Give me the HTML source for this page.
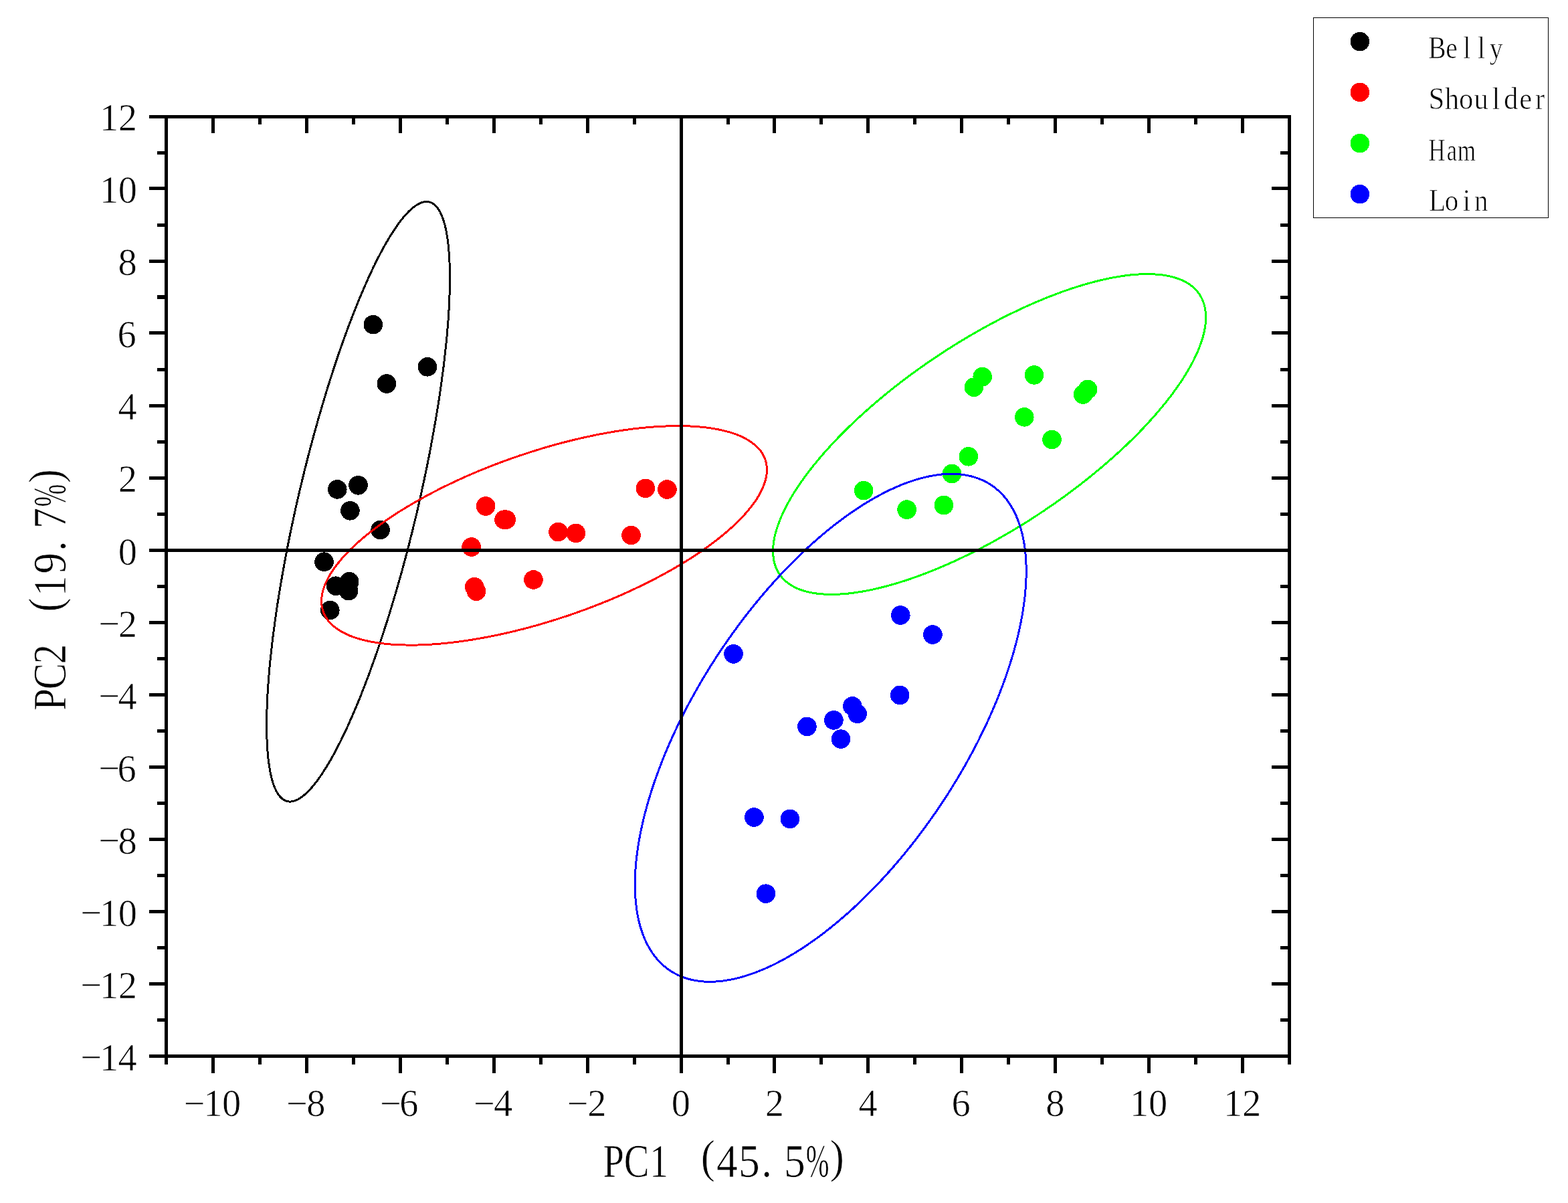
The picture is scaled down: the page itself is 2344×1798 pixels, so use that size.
<!DOCTYPE html>
<html lang="en">
<head>
<meta charset="utf-8">
<title>PCA score plot</title>
<style>
html,body{margin:0;padding:0;background:#ffffff;}
body{width:2344px;height:1798px;overflow:hidden;}
svg{display:block;}
text{white-space:pre;}
</style>
</head>
<body>
<svg width="2344" height="1798" viewBox="0 0 2344 1798">
<rect x="0" y="0" width="2344" height="1798" fill="#ffffff"/>
<g shape-rendering="crispEdges">
<g fill="#000000"><circle cx="557.8" cy="485.2" r="14.3"/><circle cx="638.9" cy="548.3" r="14.3"/><circle cx="577.9" cy="573.5" r="14.3"/><circle cx="504.3" cy="731.4" r="14.3"/><circle cx="535.5" cy="725.3" r="14.3"/><circle cx="523.4" cy="763.3" r="14.3"/><circle cx="568.6" cy="792" r="14.3"/><circle cx="484.5" cy="839.7" r="14.3"/><circle cx="502.1" cy="875.7" r="14.3"/><circle cx="522.2" cy="869.3" r="14.3"/><circle cx="521.1" cy="883" r="14.3"/><circle cx="493.3" cy="912.1" r="14.3"/></g>
<g fill="#ff0000"><circle cx="726.2" cy="756.5" r="14.3"/><circle cx="753.5" cy="776.6" r="14.3"/><circle cx="756.6" cy="776.6" r="14.3"/><circle cx="704.6" cy="817.5" r="14.3"/><circle cx="709.2" cy="877.2" r="14.3"/><circle cx="712" cy="883.7" r="14.3"/><circle cx="797.5" cy="866.5" r="14.3"/><circle cx="834.4" cy="795.1" r="14.3"/><circle cx="860.9" cy="796.9" r="14.3"/><circle cx="943.5" cy="800" r="14.3"/><circle cx="964.9" cy="729.8" r="14.3"/><circle cx="997.4" cy="731.5" r="14.3"/></g>
<g fill="#00ff00"><circle cx="1291.1" cy="733.1" r="14.3"/><circle cx="1355.6" cy="761.6" r="14.3"/><circle cx="1410.9" cy="755" r="14.3"/><circle cx="1423" cy="708" r="14.3"/><circle cx="1447.8" cy="682.3" r="14.3"/><circle cx="1455.9" cy="578.7" r="14.3"/><circle cx="1468.7" cy="563.1" r="14.3"/><circle cx="1546" cy="560.4" r="14.3"/><circle cx="1531.3" cy="623.4" r="14.3"/><circle cx="1572.5" cy="657" r="14.3"/><circle cx="1619.1" cy="589.6" r="14.3"/><circle cx="1626" cy="582" r="14.3"/></g>
<g fill="#0000ff"><circle cx="1096.5" cy="977.4" r="14.3"/><circle cx="1346.3" cy="919.5" r="14.3"/><circle cx="1394.4" cy="948.5" r="14.3"/><circle cx="1345.2" cy="1039" r="14.3"/><circle cx="1274.3" cy="1055.4" r="14.3"/><circle cx="1281.7" cy="1066.8" r="14.3"/><circle cx="1246.4" cy="1076.4" r="14.3"/><circle cx="1206.4" cy="1085.9" r="14.3"/><circle cx="1257" cy="1104.6" r="14.3"/><circle cx="1127.4" cy="1221.5" r="14.3"/><circle cx="1180.9" cy="1223.9" r="14.3"/><circle cx="1144.9" cy="1335.7" r="14.3"/></g>
<g fill="none" stroke-width="3" stroke-linejoin="round">
<polygon stroke="#000000" points="642.4,302.1 643.9,302.6 645.3,303.2 646.7,304.0 648.1,304.9 649.5,305.9 650.8,307.1 652.0,308.4 653.3,309.8 654.5,311.4 655.7,313.1 656.8,315.0 657.9,316.9 658.9,319.0 660.0,321.3 660.9,323.6 661.9,326.1 662.8,328.8 663.6,331.5 664.5,334.4 665.3,337.4 666.0,340.6 666.7,343.8 667.4,347.2 668.0,350.7 668.6,354.3 669.1,358.1 669.6,361.9 670.1,365.9 670.5,370.0 670.9,374.3 671.3,378.6 671.6,383.0 671.8,387.6 672.0,392.3 672.2,397.0 672.3,401.9 672.4,406.9 672.5,412.0 672.5,417.2 672.5,422.5 672.4,427.9 672.3,433.4 672.1,439.0 671.9,444.7 671.7,450.5 671.4,456.3 671.1,462.3 670.7,468.3 670.3,474.5 669.9,480.7 669.4,487.0 668.8,493.4 668.3,499.8 667.7,506.4 667.0,513.0 666.3,519.7 665.6,526.4 664.8,533.2 664.0,540.1 663.2,547.1 662.3,554.1 661.3,561.1 660.4,568.3 659.4,575.4 658.3,582.7 657.3,590.0 656.2,597.3 655.0,604.7 653.8,612.1 652.6,619.6 651.3,627.1 650.0,634.6 648.7,642.2 647.3,649.8 645.9,657.5 644.5,665.1 643.1,672.8 641.6,680.6 640.0,688.3 638.5,696.1 636.9,703.8 635.2,711.6 633.6,719.4 631.9,727.2 630.2,735.1 628.5,742.9 626.7,750.7 624.9,758.5 623.1,766.4 621.2,774.2 619.3,782.0 617.4,789.8 615.5,797.6 613.5,805.3 611.6,813.1 609.6,820.8 607.6,828.5 605.5,836.2 603.4,843.9 601.4,851.5 599.2,859.1 597.1,866.7 595.0,874.3 592.8,881.7 590.6,889.2 588.4,896.6 586.2,904.0 584.0,911.3 581.8,918.6 579.5,925.8 577.2,933.0 574.9,940.1 572.7,947.2 570.3,954.1 568.0,961.1 565.7,968.0 563.4,974.8 561.0,981.5 558.7,988.2 556.3,994.7 553.9,1001.3 551.6,1007.7 549.2,1014.1 546.8,1020.3 544.4,1026.5 542.0,1032.6 539.7,1038.7 537.3,1044.6 534.9,1050.5 532.5,1056.2 530.1,1061.9 527.7,1067.5 525.3,1072.9 522.9,1078.3 520.6,1083.6 518.2,1088.8 515.8,1093.8 513.5,1098.8 511.1,1103.6 508.8,1108.4 506.4,1113.0 504.1,1117.6 501.8,1122.0 499.5,1126.3 497.2,1130.5 494.9,1134.6 492.6,1138.5 490.3,1142.3 488.1,1146.1 485.8,1149.7 483.6,1153.1 481.4,1156.5 479.2,1159.7 477.1,1162.8 474.9,1165.8 472.8,1168.7 470.7,1171.4 468.6,1174.0 466.5,1176.5 464.4,1178.8 462.4,1181.0 460.4,1183.1 458.4,1185.0 456.4,1186.8 454.5,1188.5 452.6,1190.0 450.7,1191.5 448.8,1192.7 447.0,1193.9 445.2,1194.9 443.4,1195.7 441.7,1196.5 439.9,1197.1 438.2,1197.5 436.6,1197.9 434.9,1198.0 433.3,1198.1 431.8,1198.0 430.2,1197.8 428.7,1197.4 427.2,1196.9 425.8,1196.3 424.4,1195.5 423.0,1194.6 421.6,1193.6 420.3,1192.4 419.1,1191.1 417.8,1189.7 416.6,1188.1 415.4,1186.4 414.3,1184.5 413.2,1182.6 412.2,1180.5 411.1,1178.2 410.2,1175.9 409.2,1173.4 408.3,1170.7 407.5,1168.0 406.6,1165.1 405.8,1162.1 405.1,1158.9 404.4,1155.7 403.7,1152.3 403.1,1148.8 402.5,1145.2 402.0,1141.4 401.5,1137.6 401.0,1133.6 400.6,1129.5 400.2,1125.2 399.8,1120.9 399.5,1116.5 399.3,1111.9 399.1,1107.2 398.9,1102.5 398.8,1097.6 398.7,1092.6 398.6,1087.5 398.6,1082.3 398.6,1077.0 398.7,1071.6 398.8,1066.1 399.0,1060.5 399.2,1054.8 399.4,1049.0 399.7,1043.2 400.0,1037.2 400.4,1031.2 400.8,1025.0 401.2,1018.8 401.7,1012.5 402.3,1006.1 402.8,999.7 403.4,993.1 404.1,986.5 404.8,979.8 405.5,973.1 406.3,966.3 407.1,959.4 407.9,952.4 408.8,945.4 409.8,938.4 410.7,931.2 411.7,924.1 412.8,916.8 413.8,909.5 414.9,902.2 416.1,894.8 417.3,887.4 418.5,879.9 419.8,872.4 421.1,864.9 422.4,857.3 423.8,849.7 425.2,842.0 426.6,834.4 428.0,826.7 429.5,818.9 431.1,811.2 432.6,803.4 434.2,795.7 435.9,787.9 437.5,780.1 439.2,772.3 440.9,764.4 442.6,756.6 444.4,748.8 446.2,741.0 448.0,733.1 449.9,725.3 451.8,717.5 453.7,709.7 455.6,701.9 457.6,694.2 459.5,686.4 461.5,678.7 463.5,671.0 465.6,663.3 467.7,655.6 469.7,648.0 471.9,640.4 474.0,632.8 476.1,625.2 478.3,617.8 480.5,610.3 482.7,602.9 484.9,595.5 487.1,588.2 489.3,580.9 491.6,573.7 493.9,566.5 496.2,559.4 498.4,552.3 500.8,545.4 503.1,538.4 505.4,531.5 507.7,524.7 510.1,518.0 512.4,511.3 514.8,504.8 517.2,498.2 519.5,491.8 521.9,485.4 524.3,479.2 526.7,473.0 529.1,466.9 531.4,460.8 533.8,454.9 536.2,449.0 538.6,443.3 541.0,437.6 543.4,432.0 545.8,426.6 548.2,421.2 550.5,415.9 552.9,410.7 555.3,405.7 557.6,400.7 560.0,395.9 562.3,391.1 564.7,386.5 567.0,381.9 569.3,377.5 571.6,373.2 573.9,369.0 576.2,364.9 578.5,361.0 580.8,357.2 583.0,353.4 585.3,349.8 587.5,346.4 589.7,343.0 591.9,339.8 594.0,336.7 596.2,333.7 598.3,330.8 600.4,328.1 602.5,325.5 604.6,323.0 606.7,320.7 608.7,318.5 610.7,316.4 612.7,314.5 614.7,312.7 616.6,311.0 618.5,309.5 620.4,308.0 622.3,306.8 624.1,305.6 625.9,304.6 627.7,303.8 629.4,303.0 631.2,302.4 632.9,302.0 634.5,301.6 636.2,301.5 637.8,301.4 639.3,301.5 640.9,301.7"/>
<polygon stroke="#ff0000" points="1144.3,687.9 1144.9,690.0 1145.4,692.1 1145.8,694.3 1146.1,696.5 1146.3,698.7 1146.4,701.0 1146.4,703.3 1146.3,705.6 1146.1,707.9 1145.8,710.3 1145.4,712.7 1144.9,715.1 1144.3,717.6 1143.5,720.1 1142.7,722.6 1141.8,725.1 1140.8,727.6 1139.7,730.2 1138.5,732.8 1137.2,735.4 1135.8,738.0 1134.3,740.7 1132.7,743.4 1131.0,746.1 1129.2,748.8 1127.3,751.5 1125.3,754.2 1123.2,757.0 1121.0,759.7 1118.8,762.5 1116.4,765.3 1114.0,768.1 1111.4,770.9 1108.8,773.7 1106.0,776.5 1103.2,779.4 1100.3,782.2 1097.3,785.0 1094.3,787.9 1091.1,790.7 1087.8,793.6 1084.5,796.4 1081.1,799.3 1077.6,802.2 1074.0,805.0 1070.4,807.9 1066.6,810.7 1062.8,813.6 1058.9,816.4 1055.0,819.3 1050.9,822.1 1046.8,824.9 1042.6,827.8 1038.4,830.6 1034.1,833.4 1029.7,836.2 1025.2,839.0 1020.7,841.7 1016.1,844.5 1011.5,847.2 1006.8,850.0 1002.0,852.7 997.2,855.4 992.3,858.1 987.4,860.7 982.4,863.4 977.4,866.0 972.3,868.6 967.2,871.2 962.0,873.8 956.8,876.3 951.5,878.8 946.2,881.3 940.9,883.8 935.5,886.2 930.1,888.7 924.6,891.1 919.1,893.4 913.6,895.8 908.0,898.1 902.4,900.3 896.8,902.6 891.2,904.8 885.5,907.0 879.8,909.1 874.1,911.3 868.4,913.3 862.7,915.4 856.9,917.4 851.2,919.4 845.4,921.3 839.6,923.2 833.8,925.1 828.0,926.9 822.2,928.7 816.4,930.5 810.6,932.2 804.8,933.9 799.0,935.5 793.2,937.1 787.4,938.7 781.6,940.2 775.8,941.6 770.0,943.1 764.3,944.4 758.5,945.8 752.8,947.1 747.1,948.3 741.4,949.5 735.8,950.7 730.1,951.8 724.5,952.8 718.9,953.9 713.4,954.8 707.8,955.8 702.4,956.6 696.9,957.5 691.5,958.2 686.1,959.0 680.7,959.7 675.4,960.3 670.2,960.9 664.9,961.4 659.8,961.9 654.6,962.4 649.5,962.7 644.5,963.1 639.5,963.4 634.6,963.6 629.7,963.8 624.9,964.0 620.2,964.1 615.5,964.1 610.8,964.1 606.2,964.0 601.7,963.9 597.3,963.8 592.9,963.6 588.6,963.3 584.3,963.0 580.1,962.6 576.0,962.2 572.0,961.8 568.0,961.3 564.2,960.7 560.3,960.1 556.6,959.5 553.0,958.8 549.4,958.0 545.9,957.2 542.5,956.4 539.1,955.5 535.9,954.6 532.7,953.6 529.6,952.6 526.7,951.5 523.7,950.4 520.9,949.2 518.2,948.0 515.6,946.7 513.0,945.4 510.6,944.1 508.2,942.7 505.9,941.2 503.8,939.8 501.7,938.2 499.7,936.7 497.8,935.1 496.0,933.4 494.3,931.8 492.7,930.0 491.2,928.3 489.8,926.5 488.5,924.6 487.3,922.7 486.2,920.8 485.2,918.9 484.3,916.9 483.4,914.8 482.7,912.8 482.1,910.7 481.6,908.6 481.2,906.4 480.9,904.2 480.7,902.0 480.6,899.7 480.6,897.4 480.7,895.1 480.9,892.8 481.2,890.4 481.6,888.0 482.1,885.6 482.7,883.1 483.5,880.6 484.3,878.1 485.2,875.6 486.2,873.1 487.3,870.5 488.5,867.9 489.8,865.3 491.2,862.7 492.7,860.0 494.3,857.3 496.0,854.6 497.8,851.9 499.7,849.2 501.7,846.5 503.8,843.7 506.0,841.0 508.2,838.2 510.6,835.4 513.0,832.6 515.6,829.8 518.2,827.0 521.0,824.2 523.8,821.3 526.7,818.5 529.7,815.7 532.7,812.8 535.9,810.0 539.2,807.1 542.5,804.3 545.9,801.4 549.4,798.5 553.0,795.7 556.6,792.8 560.4,790.0 564.2,787.1 568.1,784.3 572.0,781.4 576.1,778.6 580.2,775.8 584.4,772.9 588.6,770.1 592.9,767.3 597.3,764.5 601.8,761.7 606.3,759.0 610.9,756.2 615.5,753.5 620.2,750.7 625.0,748.0 629.8,745.3 634.7,742.6 639.6,740.0 644.6,737.3 649.6,734.7 654.7,732.1 659.8,729.5 665.0,726.9 670.2,724.4 675.5,721.9 680.8,719.4 686.1,716.9 691.5,714.5 696.9,712.0 702.4,709.6 707.9,707.3 713.4,704.9 719.0,702.6 724.6,700.4 730.2,698.1 735.8,695.9 741.5,693.7 747.2,691.6 752.9,689.4 758.6,687.4 764.3,685.3 770.1,683.3 775.8,681.3 781.6,679.4 787.4,677.5 793.2,675.6 799.0,673.8 804.8,672.0 810.6,670.2 816.4,668.5 822.2,666.8 828.0,665.2 833.8,663.6 839.6,662.0 845.4,660.5 851.2,659.1 857.0,657.6 862.7,656.3 868.5,654.9 874.2,653.6 879.9,652.4 885.6,651.2 891.2,650.0 896.9,648.9 902.5,647.9 908.1,646.8 913.6,645.9 919.2,644.9 924.6,644.1 930.1,643.2 935.5,642.5 940.9,641.7 946.3,641.0 951.6,640.4 956.8,639.8 962.1,639.3 967.2,638.8 972.4,638.3 977.5,638.0 982.5,637.6 987.5,637.3 992.4,637.1 997.3,636.9 1002.1,636.7 1006.8,636.6 1011.5,636.6 1016.2,636.6 1020.8,636.7 1025.3,636.8 1029.7,636.9 1034.1,637.1 1038.4,637.4 1042.7,637.7 1046.9,638.1 1051.0,638.5 1055.0,638.9 1059.0,639.4 1062.8,640.0 1066.7,640.6 1070.4,641.2 1074.0,641.9 1077.6,642.7 1081.1,643.5 1084.5,644.3 1087.9,645.2 1091.1,646.1 1094.3,647.1 1097.4,648.1 1100.3,649.2 1103.3,650.3 1106.1,651.5 1108.8,652.7 1111.4,654.0 1114.0,655.3 1116.4,656.6 1118.8,658.0 1121.1,659.5 1123.2,660.9 1125.3,662.5 1127.3,664.0 1129.2,665.6 1131.0,667.3 1132.7,668.9 1134.3,670.7 1135.8,672.4 1137.2,674.2 1138.5,676.1 1139.7,678.0 1140.8,679.9 1141.8,681.8 1142.7,683.8 1143.6,685.9"/>
<polygon stroke="#00ff00" points="1793.8,441.1 1795.0,443.2 1796.2,445.3 1797.3,447.6 1798.3,449.9 1799.1,452.2 1799.9,454.6 1800.6,457.1 1801.2,459.6 1801.6,462.2 1802.0,464.8 1802.3,467.5 1802.5,470.3 1802.6,473.1 1802.6,475.9 1802.5,478.9 1802.3,481.8 1802.0,484.8 1801.6,487.9 1801.1,491.0 1800.5,494.2 1799.8,497.4 1799.0,500.7 1798.1,504.0 1797.1,507.3 1796.0,510.7 1794.8,514.1 1793.5,517.6 1792.2,521.1 1790.7,524.7 1789.1,528.2 1787.5,531.9 1785.7,535.5 1783.9,539.2 1781.9,543.0 1779.9,546.7 1777.8,550.5 1775.6,554.3 1773.2,558.2 1770.9,562.1 1768.4,566.0 1765.8,569.9 1763.1,573.9 1760.4,577.8 1757.6,581.8 1754.6,585.9 1751.6,589.9 1748.6,594.0 1745.4,598.0 1742.2,602.1 1738.8,606.2 1735.4,610.3 1731.9,614.5 1728.4,618.6 1724.7,622.8 1721.0,626.9 1717.2,631.1 1713.4,635.3 1709.5,639.4 1705.5,643.6 1701.4,647.8 1697.3,652.0 1693.1,656.1 1688.8,660.3 1684.5,664.5 1680.1,668.7 1675.6,672.8 1671.1,677.0 1666.5,681.1 1661.9,685.2 1657.2,689.4 1652.5,693.5 1647.7,697.6 1642.8,701.7 1637.9,705.7 1633.0,709.8 1628.0,713.8 1623.0,717.8 1617.9,721.8 1612.8,725.8 1607.6,729.7 1602.4,733.7 1597.2,737.6 1591.9,741.4 1586.6,745.3 1581.2,749.1 1575.9,752.9 1570.5,756.6 1565.0,760.3 1559.6,764.0 1554.1,767.6 1548.6,771.3 1543.1,774.8 1537.5,778.4 1532.0,781.9 1526.4,785.3 1520.8,788.7 1515.2,792.1 1509.6,795.4 1503.9,798.7 1498.3,801.9 1492.7,805.1 1487.0,808.3 1481.4,811.4 1475.7,814.4 1470.1,817.4 1464.5,820.4 1458.8,823.3 1453.2,826.1 1447.6,828.9 1441.9,831.6 1436.3,834.3 1430.8,836.9 1425.2,839.5 1419.6,842.0 1414.1,844.4 1408.6,846.8 1403.1,849.1 1397.6,851.4 1392.1,853.6 1386.7,855.7 1381.3,857.8 1375.9,859.8 1370.6,861.8 1365.3,863.6 1360.0,865.5 1354.8,867.2 1349.6,868.9 1344.5,870.5 1339.3,872.1 1334.3,873.5 1329.2,875.0 1324.3,876.3 1319.3,877.6 1314.4,878.8 1309.6,879.9 1304.8,881.0 1300.1,882.0 1295.4,882.9 1290.8,883.8 1286.2,884.5 1281.7,885.3 1277.3,885.9 1272.9,886.5 1268.6,887.0 1264.3,887.4 1260.2,887.7 1256.0,888.0 1252.0,888.2 1248.0,888.3 1244.1,888.4 1240.2,888.4 1236.5,888.3 1232.8,888.1 1229.1,887.9 1225.6,887.6 1222.1,887.2 1218.7,886.8 1215.4,886.2 1212.2,885.6 1209.0,885.0 1206.0,884.2 1203.0,883.4 1200.1,882.5 1197.3,881.6 1194.5,880.6 1191.9,879.5 1189.3,878.3 1186.9,877.1 1184.5,875.8 1182.2,874.4 1180.0,872.9 1177.9,871.4 1175.9,869.8 1174.0,868.2 1172.1,866.5 1170.4,864.7 1168.8,862.9 1167.2,860.9 1165.8,859.0 1164.4,856.9 1163.2,854.8 1162.0,852.7 1160.9,850.4 1159.9,848.1 1159.1,845.8 1158.3,843.4 1157.6,840.9 1157.0,838.4 1156.6,835.8 1156.2,833.2 1155.9,830.5 1155.7,827.7 1155.6,824.9 1155.6,822.1 1155.7,819.1 1155.9,816.2 1156.2,813.2 1156.6,810.1 1157.1,807.0 1157.7,803.8 1158.4,800.6 1159.2,797.3 1160.1,794.0 1161.1,790.7 1162.2,787.3 1163.4,783.9 1164.7,780.4 1166.0,776.9 1167.5,773.3 1169.1,769.8 1170.7,766.1 1172.5,762.5 1174.3,758.8 1176.3,755.0 1178.3,751.3 1180.4,747.5 1182.6,743.7 1185.0,739.8 1187.3,735.9 1189.8,732.0 1192.4,728.1 1195.1,724.1 1197.8,720.2 1200.6,716.2 1203.6,712.1 1206.6,708.1 1209.6,704.0 1212.8,700.0 1216.0,695.9 1219.4,691.8 1222.8,687.7 1226.3,683.5 1229.8,679.4 1233.5,675.2 1237.2,671.1 1241.0,666.9 1244.8,662.7 1248.7,658.6 1252.7,654.4 1256.8,650.2 1260.9,646.0 1265.1,641.9 1269.4,637.7 1273.7,633.5 1278.1,629.3 1282.6,625.2 1287.1,621.0 1291.7,616.9 1296.3,612.8 1301.0,608.6 1305.7,604.5 1310.5,600.4 1315.4,596.3 1320.3,592.3 1325.2,588.2 1330.2,584.2 1335.2,580.2 1340.3,576.2 1345.4,572.2 1350.6,568.3 1355.8,564.3 1361.0,560.4 1366.3,556.6 1371.6,552.7 1377.0,548.9 1382.3,545.1 1387.7,541.4 1393.2,537.7 1398.6,534.0 1404.1,530.4 1409.6,526.7 1415.1,523.2 1420.7,519.6 1426.2,516.1 1431.8,512.7 1437.4,509.3 1443.0,505.9 1448.6,502.6 1454.3,499.3 1459.9,496.1 1465.5,492.9 1471.2,489.7 1476.8,486.6 1482.5,483.6 1488.1,480.6 1493.7,477.6 1499.4,474.7 1505.0,471.9 1510.6,469.1 1516.3,466.4 1521.9,463.7 1527.4,461.1 1533.0,458.5 1538.6,456.0 1544.1,453.6 1549.6,451.2 1555.1,448.9 1560.6,446.6 1566.1,444.4 1571.5,442.3 1576.9,440.2 1582.3,438.2 1587.6,436.2 1592.9,434.4 1598.2,432.5 1603.4,430.8 1608.6,429.1 1613.7,427.5 1618.9,425.9 1623.9,424.5 1629.0,423.0 1633.9,421.7 1638.9,420.4 1643.8,419.2 1648.6,418.1 1653.4,417.0 1658.1,416.0 1662.8,415.1 1667.4,414.2 1672.0,413.5 1676.5,412.7 1680.9,412.1 1685.3,411.5 1689.6,411.0 1693.9,410.6 1698.0,410.3 1702.2,410.0 1706.2,409.8 1710.2,409.7 1714.1,409.6 1718.0,409.6 1721.7,409.7 1725.4,409.9 1729.1,410.1 1732.6,410.4 1736.1,410.8 1739.5,411.2 1742.8,411.8 1746.0,412.4 1749.2,413.0 1752.2,413.8 1755.2,414.6 1758.1,415.5 1760.9,416.4 1763.7,417.4 1766.3,418.5 1768.9,419.7 1771.3,420.9 1773.7,422.2 1776.0,423.6 1778.2,425.1 1780.3,426.6 1782.3,428.2 1784.2,429.8 1786.1,431.5 1787.8,433.3 1789.4,435.1 1791.0,437.1 1792.4,439.0"/>
<polygon stroke="#0000ff" points="1482.9,725.8 1485.8,727.8 1488.5,730.0 1491.2,732.2 1493.9,734.6 1496.4,737.1 1498.9,739.7 1501.3,742.3 1503.6,745.1 1505.8,748.0 1508.0,751.0 1510.0,754.1 1512.0,757.4 1513.9,760.7 1515.8,764.1 1517.5,767.6 1519.2,771.2 1520.7,774.9 1522.2,778.7 1523.6,782.6 1524.9,786.5 1526.2,790.6 1527.3,794.8 1528.4,799.0 1529.3,803.4 1530.2,807.8 1531.0,812.3 1531.7,816.9 1532.3,821.6 1532.9,826.3 1533.3,831.2 1533.7,836.1 1533.9,841.1 1534.1,846.2 1534.2,851.3 1534.2,856.5 1534.1,861.8 1533.9,867.2 1533.6,872.6 1533.3,878.1 1532.8,883.6 1532.3,889.3 1531.7,894.9 1530.9,900.7 1530.1,906.5 1529.3,912.3 1528.3,918.2 1527.2,924.1 1526.1,930.1 1524.8,936.2 1523.5,942.3 1522.1,948.4 1520.6,954.6 1519.0,960.8 1517.3,967.1 1515.6,973.4 1513.8,979.7 1511.8,986.1 1509.8,992.5 1507.8,998.9 1505.6,1005.4 1503.4,1011.8 1501.0,1018.3 1498.6,1024.9 1496.1,1031.4 1493.6,1038.0 1491.0,1044.5 1488.3,1051.1 1485.5,1057.7 1482.6,1064.3 1479.7,1070.9 1476.7,1077.6 1473.6,1084.2 1470.4,1090.8 1467.2,1097.4 1463.9,1104.1 1460.6,1110.7 1457.2,1117.3 1453.7,1123.9 1450.1,1130.5 1446.5,1137.0 1442.9,1143.6 1439.1,1150.1 1435.3,1156.7 1431.5,1163.2 1427.5,1169.6 1423.6,1176.1 1419.6,1182.5 1415.5,1188.9 1411.3,1195.3 1407.2,1201.6 1402.9,1207.9 1398.6,1214.2 1394.3,1220.4 1389.9,1226.6 1385.5,1232.7 1381.0,1238.8 1376.5,1244.9 1372.0,1250.9 1367.4,1256.9 1362.8,1262.8 1358.1,1268.6 1353.4,1274.4 1348.7,1280.1 1343.9,1285.8 1339.1,1291.4 1334.3,1297.0 1329.4,1302.5 1324.5,1307.9 1319.6,1313.3 1314.7,1318.6 1309.7,1323.8 1304.8,1329.0 1299.8,1334.0 1294.7,1339.0 1289.7,1344.0 1284.7,1348.8 1279.6,1353.6 1274.6,1358.3 1269.5,1362.9 1264.4,1367.4 1259.3,1371.8 1254.2,1376.2 1249.1,1380.4 1244.0,1384.6 1238.9,1388.7 1233.8,1392.7 1228.7,1396.6 1223.6,1400.4 1218.5,1404.1 1213.4,1407.7 1208.3,1411.2 1203.3,1414.6 1198.2,1418.0 1193.2,1421.2 1188.1,1424.3 1183.1,1427.3 1178.1,1430.2 1173.2,1433.0 1168.2,1435.7 1163.3,1438.3 1158.4,1440.8 1153.5,1443.2 1148.6,1445.4 1143.8,1447.6 1139.0,1449.6 1134.3,1451.6 1129.5,1453.4 1124.8,1455.1 1120.2,1456.7 1115.5,1458.2 1111.0,1459.6 1106.4,1460.9 1101.9,1462.0 1097.4,1463.1 1093.0,1464.0 1088.6,1464.8 1084.3,1465.5 1080.0,1466.1 1075.8,1466.6 1071.6,1466.9 1067.5,1467.2 1063.4,1467.3 1059.4,1467.3 1055.4,1467.2 1051.5,1467.0 1047.7,1466.6 1043.9,1466.2 1040.2,1465.6 1036.5,1464.9 1032.9,1464.1 1029.3,1463.2 1025.9,1462.1 1022.5,1461.0 1019.1,1459.7 1015.8,1458.4 1012.6,1456.9 1009.5,1455.3 1006.4,1453.6 1003.4,1451.8 1000.5,1449.8 997.6,1447.8 994.9,1445.6 992.2,1443.4 989.5,1441.0 987.0,1438.5 984.5,1435.9 982.1,1433.3 979.8,1430.5 977.6,1427.6 975.4,1424.6 973.4,1421.5 971.4,1418.2 969.5,1414.9 967.6,1411.5 965.9,1408.0 964.2,1404.4 962.7,1400.7 961.2,1396.9 959.8,1393.0 958.5,1389.1 957.2,1385.0 956.1,1380.8 955.0,1376.6 954.1,1372.2 953.2,1367.8 952.4,1363.3 951.7,1358.7 951.1,1354.0 950.5,1349.3 950.1,1344.4 949.7,1339.5 949.5,1334.5 949.3,1329.4 949.2,1324.3 949.2,1319.1 949.3,1313.8 949.5,1308.4 949.8,1303.0 950.1,1297.5 950.6,1292.0 951.1,1286.3 951.7,1280.7 952.5,1274.9 953.3,1269.1 954.1,1263.3 955.1,1257.4 956.2,1251.5 957.3,1245.5 958.6,1239.4 959.9,1233.3 961.3,1227.2 962.8,1221.0 964.4,1214.8 966.1,1208.5 967.8,1202.2 969.6,1195.9 971.6,1189.5 973.6,1183.1 975.6,1176.7 977.8,1170.2 980.0,1163.8 982.4,1157.3 984.8,1150.7 987.3,1144.2 989.8,1137.6 992.4,1131.1 995.1,1124.5 997.9,1117.9 1000.8,1111.3 1003.7,1104.7 1006.7,1098.0 1009.8,1091.4 1013.0,1084.8 1016.2,1078.2 1019.5,1071.5 1022.8,1064.9 1026.2,1058.3 1029.7,1051.7 1033.3,1045.1 1036.9,1038.6 1040.5,1032.0 1044.3,1025.5 1048.1,1018.9 1051.9,1012.4 1055.9,1006.0 1059.8,999.5 1063.8,993.1 1067.9,986.7 1072.1,980.3 1076.2,974.0 1080.5,967.7 1084.8,961.4 1089.1,955.2 1093.5,949.0 1097.9,942.9 1102.4,936.8 1106.9,930.7 1111.4,924.7 1116.0,918.7 1120.6,912.8 1125.3,907.0 1130.0,901.2 1134.7,895.5 1139.5,889.8 1144.3,884.2 1149.1,878.6 1154.0,873.1 1158.9,867.7 1163.8,862.3 1168.7,857.0 1173.7,851.8 1178.6,846.6 1183.6,841.6 1188.7,836.6 1193.7,831.6 1198.7,826.8 1203.8,822.0 1208.8,817.3 1213.9,812.7 1219.0,808.2 1224.1,803.8 1229.2,799.4 1234.3,795.2 1239.4,791.0 1244.5,786.9 1249.6,782.9 1254.7,779.0 1259.8,775.2 1264.9,771.5 1270.0,767.9 1275.1,764.4 1280.1,761.0 1285.2,757.6 1290.2,754.4 1295.3,751.3 1300.3,748.3 1305.3,745.4 1310.2,742.6 1315.2,739.9 1320.1,737.3 1325.0,734.8 1329.9,732.4 1334.8,730.2 1339.6,728.0 1344.4,726.0 1349.1,724.0 1353.9,722.2 1358.6,720.5 1363.2,718.9 1367.9,717.4 1372.4,716.0 1377.0,714.7 1381.5,713.6 1386.0,712.5 1390.4,711.6 1394.8,710.8 1399.1,710.1 1403.4,709.5 1407.6,709.0 1411.8,708.7 1415.9,708.4 1420.0,708.3 1424.0,708.3 1428.0,708.4 1431.9,708.6 1435.7,709.0 1439.5,709.4 1443.2,710.0 1446.9,710.7 1450.5,711.5 1454.1,712.4 1457.5,713.5 1460.9,714.6 1464.3,715.9 1467.6,717.2 1470.8,718.7 1473.9,720.3 1477.0,722.0 1480.0,723.8"/>
</g>
<g fill="#000000">
<rect x="246" y="172" width="5" height="1409"/>
<rect x="1925" y="172" width="5" height="1409"/>
<rect x="246" y="172" width="1684" height="5"/>
<rect x="246" y="1576" width="1684" height="5"/>
<rect x="1016" y="172" width="5" height="1409"/>
<rect x="246" y="820" width="1684" height="5"/>
<rect x="246" y="1581" width="5" height="10"/>
<rect x="246" y="177" width="5" height="9"/>
<rect x="316" y="1581" width="5" height="23"/>
<rect x="316" y="177" width="5" height="22"/>
<rect x="386" y="1581" width="5" height="10"/>
<rect x="386" y="177" width="5" height="9"/>
<rect x="456" y="1581" width="5" height="23"/>
<rect x="456" y="177" width="5" height="22"/>
<rect x="526" y="1581" width="5" height="10"/>
<rect x="526" y="177" width="5" height="9"/>
<rect x="596" y="1581" width="5" height="23"/>
<rect x="596" y="177" width="5" height="22"/>
<rect x="666" y="1581" width="5" height="10"/>
<rect x="666" y="177" width="5" height="9"/>
<rect x="736" y="1581" width="5" height="23"/>
<rect x="736" y="177" width="5" height="22"/>
<rect x="806" y="1581" width="5" height="10"/>
<rect x="806" y="177" width="5" height="9"/>
<rect x="876" y="1581" width="5" height="23"/>
<rect x="876" y="177" width="5" height="22"/>
<rect x="946" y="1581" width="5" height="10"/>
<rect x="946" y="177" width="5" height="9"/>
<rect x="1016" y="1581" width="5" height="23"/>
<rect x="1016" y="177" width="5" height="22"/>
<rect x="1086" y="1581" width="5" height="10"/>
<rect x="1086" y="177" width="5" height="9"/>
<rect x="1155" y="1581" width="5" height="23"/>
<rect x="1155" y="177" width="5" height="22"/>
<rect x="1225" y="1581" width="5" height="10"/>
<rect x="1225" y="177" width="5" height="9"/>
<rect x="1295" y="1581" width="5" height="23"/>
<rect x="1295" y="177" width="5" height="22"/>
<rect x="1365" y="1581" width="5" height="10"/>
<rect x="1365" y="177" width="5" height="9"/>
<rect x="1435" y="1581" width="5" height="23"/>
<rect x="1435" y="177" width="5" height="22"/>
<rect x="1505" y="1581" width="5" height="10"/>
<rect x="1505" y="177" width="5" height="9"/>
<rect x="1575" y="1581" width="5" height="23"/>
<rect x="1575" y="177" width="5" height="22"/>
<rect x="1645" y="1581" width="5" height="10"/>
<rect x="1645" y="177" width="5" height="9"/>
<rect x="1715" y="1581" width="5" height="23"/>
<rect x="1715" y="177" width="5" height="22"/>
<rect x="1785" y="1581" width="5" height="10"/>
<rect x="1785" y="177" width="5" height="9"/>
<rect x="1855" y="1581" width="5" height="23"/>
<rect x="1855" y="177" width="5" height="22"/>
<rect x="1925" y="1581" width="5" height="10"/>
<rect x="1925" y="177" width="5" height="9"/>
<rect x="223" y="1576" width="23" height="5"/>
<rect x="1901" y="1576" width="24" height="5"/>
<rect x="235" y="1522" width="11" height="5"/>
<rect x="1914" y="1522" width="11" height="5"/>
<rect x="223" y="1468" width="23" height="5"/>
<rect x="1901" y="1468" width="24" height="5"/>
<rect x="235" y="1414" width="11" height="5"/>
<rect x="1914" y="1414" width="11" height="5"/>
<rect x="223" y="1360" width="23" height="5"/>
<rect x="1901" y="1360" width="24" height="5"/>
<rect x="235" y="1306" width="11" height="5"/>
<rect x="1914" y="1306" width="11" height="5"/>
<rect x="223" y="1252" width="23" height="5"/>
<rect x="1901" y="1252" width="24" height="5"/>
<rect x="235" y="1198" width="11" height="5"/>
<rect x="1914" y="1198" width="11" height="5"/>
<rect x="223" y="1144" width="23" height="5"/>
<rect x="1901" y="1144" width="24" height="5"/>
<rect x="235" y="1090" width="11" height="5"/>
<rect x="1914" y="1090" width="11" height="5"/>
<rect x="223" y="1036" width="23" height="5"/>
<rect x="1901" y="1036" width="24" height="5"/>
<rect x="235" y="982" width="11" height="5"/>
<rect x="1914" y="982" width="11" height="5"/>
<rect x="223" y="928" width="23" height="5"/>
<rect x="1901" y="928" width="24" height="5"/>
<rect x="235" y="874" width="11" height="5"/>
<rect x="1914" y="874" width="11" height="5"/>
<rect x="223" y="820" width="23" height="5"/>
<rect x="1901" y="820" width="24" height="5"/>
<rect x="235" y="766" width="11" height="5"/>
<rect x="1914" y="766" width="11" height="5"/>
<rect x="223" y="712" width="23" height="5"/>
<rect x="1901" y="712" width="24" height="5"/>
<rect x="235" y="658" width="11" height="5"/>
<rect x="1914" y="658" width="11" height="5"/>
<rect x="223" y="604" width="23" height="5"/>
<rect x="1901" y="604" width="24" height="5"/>
<rect x="235" y="550" width="11" height="5"/>
<rect x="1914" y="550" width="11" height="5"/>
<rect x="223" y="495" width="23" height="5"/>
<rect x="1901" y="495" width="24" height="5"/>
<rect x="235" y="441" width="11" height="6"/>
<rect x="1914" y="442" width="11" height="5"/>
<rect x="223" y="388" width="23" height="5"/>
<rect x="1901" y="388" width="24" height="5"/>
<rect x="235" y="334" width="11" height="5"/>
<rect x="1914" y="334" width="11" height="5"/>
<rect x="223" y="279" width="23" height="5"/>
<rect x="1901" y="279" width="24" height="5"/>
<rect x="235" y="226" width="11" height="5"/>
<rect x="1914" y="226" width="11" height="5"/>
<rect x="223" y="172" width="23" height="5"/>
<rect x="1901" y="172" width="24" height="5"/>
</g>
<rect x="1963.5" y="26.5" width="351" height="299" fill="none" stroke="#000000" stroke-width="1"/>
<circle cx="2032.9" cy="62.1" r="14.3" fill="#000000"/>
<circle cx="2032.9" cy="137.9" r="14.3" fill="#ff0000"/>
<circle cx="2032.9" cy="214.1" r="14.3" fill="#00ff00"/>
<circle cx="2032.9" cy="290.2" r="14.3" fill="#0000ff"/>
</g>
<g font-family="'Liberation Serif', 'Noto Serif CJK SC', serif" fill="#000000" stroke="#ffffff" stroke-width="0.7" stroke-linejoin="round">
<text x="274.65 304.2 332.03" y="1668" font-size="56.5">−10</text>
<text x="428.07 458.2" y="1668" font-size="56.5">−8</text>
<text x="567.98 597.19" y="1668" font-size="56.5">−6</text>
<text x="707.9 737.97" y="1668" font-size="56.5">−4</text>
<text x="847.82 878.27" y="1668" font-size="56.5">−2</text>
<text x="1003.87" y="1668" font-size="56.5">0</text>
<text x="1143.85" y="1668" font-size="56.5">2</text>
<text x="1283.39" y="1668" font-size="56.5">4</text>
<text x="1422.44" y="1668" font-size="56.5">6</text>
<text x="1563.28" y="1668" font-size="56.5">8</text>
<text x="1689.11 1716.95" y="1668" font-size="56.5">10</text>
<text x="1829.03 1856.93" y="1668" font-size="56.5">12</text>
<text x="120.34 148.89 176.41" dy="-1.1 1.1 0" y="1600.3" font-size="56.5">−14</text>
<text x="120.34 148.89 176.79" dy="-1.1 1.1 0" y="1492.19" font-size="56.5">−12</text>
<text x="120.34 148.89 176.73" dy="-1.1 1.1 0" y="1384.08" font-size="56.5">−10</text>
<text x="147.34 176.48" dy="-1.1 1.1" y="1275.98" font-size="56.5">−8</text>
<text x="147.34 175.55" dy="-1.1 1.1" y="1167.87" font-size="56.5">−6</text>
<text x="147.34 176.41" dy="-1.1 1.1" y="1059.76" font-size="56.5">−4</text>
<text x="147.34 176.79" dy="-1.1 1.1" y="951.65" font-size="56.5">−2</text>
<text x="176.73" y="843.55" font-size="56.5">0</text>
<text x="176.79" y="735.44" font-size="56.5">2</text>
<text x="176.41" y="627.33" font-size="56.5">4</text>
<text x="175.55" y="519.22" font-size="56.5">6</text>
<text x="176.48" y="411.12" font-size="56.5">8</text>
<text x="148.89 176.73" y="303.01" font-size="56.5">10</text>
<text x="148.89 176.79" y="194.9" font-size="56.5">12</text>
<text transform="scale(0.8122 1)" x="1110.04 1148.58 1195.47" y="1759" font-size="69.5">PC1</text>
<text transform="scale(0.9152 1)" x="1144.83 1170.22 1206.41 1243.78 1280.6 1316.31 1355.71" dy="-7 7 0 0 0 0 -7" y="1759" font-size="69.5">(45.5<tspan x="1316.31" textLength="37.97" lengthAdjust="spacingAndGlyphs">%</tspan>)</text>
<g transform="translate(98 1063) rotate(-90)">
<text transform="scale(0.855 1)" x="1.18 37.95 82.54" y="0" font-size="69.5">PC2</text>
<text transform="scale(0.9025 1)" x="164.42 190.03 227.7 264.94 302.11 338.4 377.93" dy="-7 7 0 0 0 0 -7" y="0" font-size="69.5">(19.7<tspan x="338.4" textLength="37.66" lengthAdjust="spacingAndGlyphs">%</tspan>)</text>
</g>
<text transform="scale(0.871 1)" x="2451.52 2481.35 2511.12 2536.15 2556.51" y="87" font-size="45.5">Belly</text>
<text transform="scale(0.9413 1)" x="2268.64 2294.54 2317.14 2340.92 2369.57 2388.14 2413.02 2438.07" y="162.7" font-size="45.5">Shoulder</text>
<text transform="scale(0.763 1)" x="2798.84 2834.49 2855.83" y="239.8" font-size="45.5">Ham</text>
<text transform="scale(0.9024 1)" x="2367.06 2393.36 2423.14 2442.33" y="314.8" font-size="45.5">Loin</text>
</g>
</svg>
</body>
</html>
